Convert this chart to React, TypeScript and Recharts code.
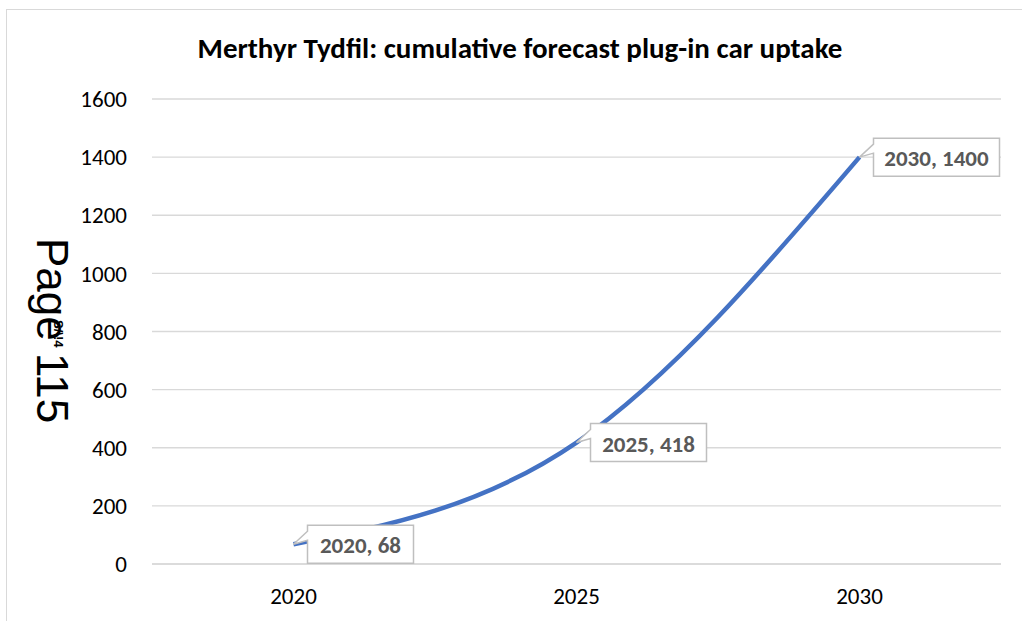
import React from 'react';
import { LineChart, Line, XAxis, YAxis, CartesianGrid, LabelList } from 'recharts';

// forecast values
const years = ['2020', '2025', '2030'];
const uptake = [68, 418, 1400];
const yTicks = [0, 200, 400, 600, 800, 1000, 1200, 1400, 1600];

const data = years.map((year, i) => ({ year, uptake: uptake[i] }));

const FONT = 'Carlito, Lato, "Open Sans", sans-serif';

// callout style data label: white box right of the point, tail pointing back to it
const CalloutLabel = (props: any) => {
  const { x, y, index } = props;
  const text = `${years[index]}, ${uptake[index]}`;
  const w = text.length * 10 + 26;
  const h = 38;
  const bx = x + 14;
  const top = y - h / 2;
  const path = `M${bx},${top} H${bx + w} V${top + h} H${bx} V${top + 15} L${x},${y} L${bx},${top + 6} Z`;
  return (
    <g>
      <path d={path} fill="#fff" stroke="#bfbfbf" strokeWidth={1.5} />
      <text
        x={bx + w / 2}
        y={y + 1}
        textAnchor="middle"
        dominantBaseline="central"
        fontFamily={FONT}
        fontWeight="bold"
        fontSize={23}
        fill="#595959"
      >
        {text}
      </text>
    </g>
  );
};

export default function App() {
  return (
    <div style={{ position: 'absolute', left: 0, top: 0, width: 1022, height: 621, background: '#fff', overflow: 'hidden' }}>
      {/* chart frame, only top and left edges fall inside the picture */}
      <div
        style={{
          position: 'absolute',
          left: 6,
          top: 9,
          width: 1030,
          height: 640,
          border: '1px solid #d9d9d9',
        }}
      />
      <div
        style={{
          position: 'absolute',
          left: 0,
          top: 30,
          width: 1040,
          textAlign: 'center',
          fontFamily: FONT,
          fontWeight: 'bold',
          fontSize: 29,
          lineHeight: '36px',
          color: '#000',
        }}
      >
        Merthyr Tydfil: cumulative forecast plug-in car uptake
      </div>
      <div style={{ position: 'absolute', left: 0, top: 0 }}>
        <LineChart width={1022} height={621} data={data} margin={{ top: 99, right: 21, bottom: 0, left: 0 }}>
          <CartesianGrid vertical={false} stroke="#d9d9d9" strokeWidth={1.3} />
          <XAxis
            dataKey="year"
            height={57}
            axisLine={{ stroke: '#d9d9d9', strokeWidth: 1.3 }}
            tickLine={false}
            tickSize={0}
            tickMargin={24}
            padding={{ left: 141.5, right: 141.5 }}
            tick={{ fontFamily: FONT, fontSize: 23, fill: '#000' }}
          />
          <YAxis
            width={152}
            domain={[0, 1600]}
            ticks={yTicks}
            axisLine={false}
            tickLine={false}
            tickSize={0}
            tickMargin={25}
            tick={{ fontFamily: FONT, fontSize: 23, fill: '#000' }}
          />
          <Line
            type="monotone"
            dataKey="uptake"
            stroke="#4472c4"
            strokeWidth={4.5}
            dot={false}
            isAnimationActive={false}
          >
            <LabelList dataKey="uptake" content={<CalloutLabel />} />
          </Line>
        </LineChart>
      </div>
      {/* page number stamp running down the left edge */}
      <svg width={120} height={621} style={{ position: 'absolute', left: 0, top: 0, pointerEvents: 'none' }}>
        <text
          transform="translate(37,238) rotate(90)"
          fontFamily='"Liberation Sans", Arial, sans-serif'
          fontSize={44}
          fill="#000"
        >
          Page 115
        </text>
        <text
          transform="translate(54,320) rotate(90)"
          fontFamily='"Liberation Sans", Arial, sans-serif'
          fontSize={13}
          fontWeight="bold"
          fill="#000"
        >
          {'S/\\!4'}
        </text>
      </svg>
    </div>
  );
}
